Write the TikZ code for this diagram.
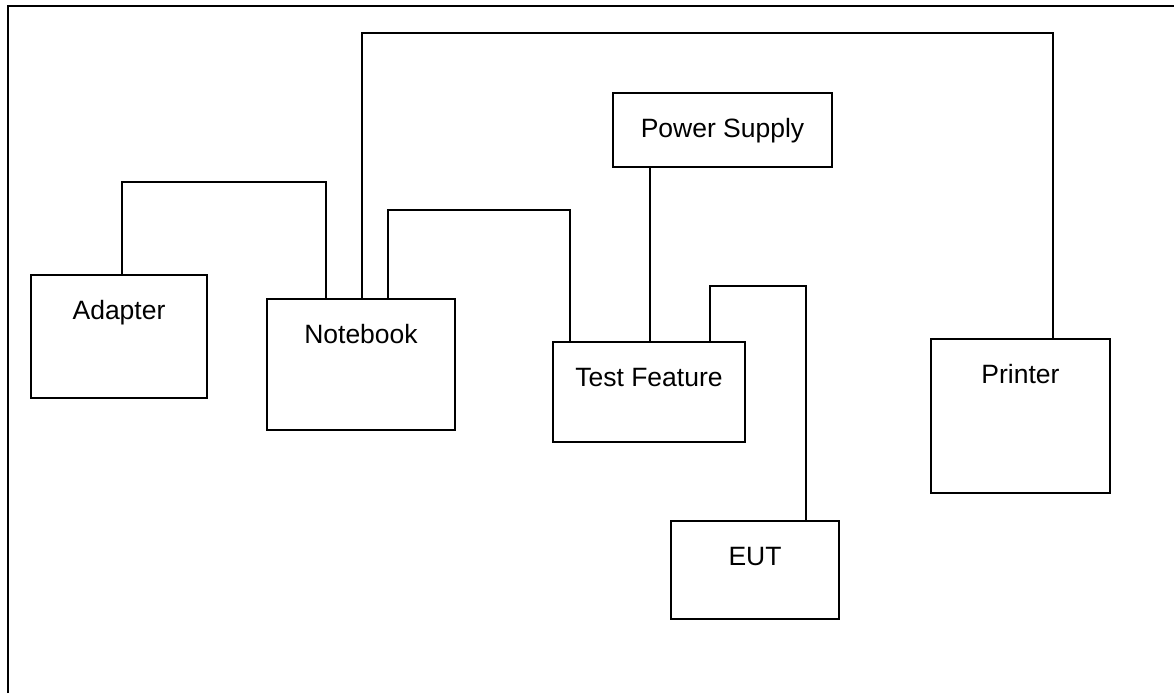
\documentclass[tikz,border=0pt]{standalone}
\usepackage{fontspec}
\setmainfont{Liberation Sans}
\usepackage{tikz}

\begin{document}
\begin{tikzpicture}[x=0.5pt,y=-0.5pt,line width=1pt,
    box/.style={draw,anchor=north west,inner ysep=0pt,text height=22pt,font=\fontsize{13.25}{16}\selectfont}]
    \useasboundingbox (0,0) rectangle (1174,693);
    \draw (8,693) -- (8,6) -- (1174,6);

    \node[box,minimum width=88pt,text depth=39.5pt] (adapter) at (30,274) {Adapter};
    \node[box,minimum width=94pt,text depth=43.5pt] (notebook) at (266,298) {Notebook};
    \node[box,minimum width=96pt,text depth=28pt] (test) at (552,341) {Test Feature};
    \node[box,minimum width=109.5pt,text depth=15pt] (power) at (612,92) {Power Supply};
    \node[box,minimum width=84pt,text depth=27pt] (eut) at (670,520) {EUT};
    \node[box,minimum width=89.5pt,text depth=55pt] (printer) at (930,338) {Printer};

    \draw ([xshift=46pt]adapter.north west) -- ++(0,-92) -| ([xshift=30pt]notebook.north west);
    \draw ([xshift=48pt]notebook.north west) -- ++(0,-265) -| ([xshift=61.5pt]printer.north west);
    \draw ([xshift=61pt]notebook.north west) -- ++(0,-88) -| ([xshift=9pt]test.north west);
    \draw ([xshift=19pt]power.south west) -- ([xshift=49pt]test.north west);
    \draw ([xshift=79pt]test.north west) -- ++(0,-55) -| ([xshift=68pt]eut.north west);

\end{tikzpicture}
\end{document}
